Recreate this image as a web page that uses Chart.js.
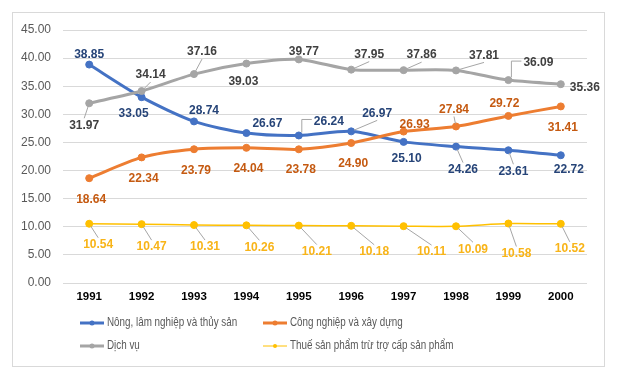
<!DOCTYPE html>
<html><head><meta charset="utf-8">
<script src="https://cdn.jsdelivr.net/npm/chart.js@4.4.1/dist/chart.umd.min.js"></script>
<style>html,body{margin:0;padding:0;background:#fff;}#wrap{position:relative;width:619px;height:379px;}</style>
</head><body><div id="wrap"><canvas id="c" width="619" height="379"></canvas></div>
<script>
const categories = ['1991','1992','1993','1994','1995','1996','1997','1998','1999','2000'];
const agriculture = [38.85, 33.05, 28.74, 26.67, 26.24, 26.97, 25.10, 24.26, 23.61, 22.72];
const industry = [18.64, 22.34, 23.79, 24.04, 23.78, 24.90, 26.93, 27.84, 29.72, 31.41];
const services = [31.97, 34.14, 37.16, 39.03, 39.77, 37.95, 37.86, 37.81, 36.09, 35.36];
const taxes = [10.54, 10.47, 10.31, 10.26, 10.21, 10.18, 10.11, 10.09, 10.58, 10.52];
const seriesNames = ['Nông, lâm nghiệp và thủy sản','Công nghiệp và xây dựng','Dịch vụ','Thuế sản phẩm trừ trợ cấp sản phẩm'];
const yMin = 0, yMax = 45, yStep = 5;

// label placement (pixel offset from point, leader type: 0 none, 1 straight, 2 elbow)
const offAgri = [[0,-10,0],[-8,17,0],[10,-11,0],[21,-9,0],[30,-14,2],[26,-18,1],[3,17,0],[7,23,1],[5,21,1],[8,14,0]];
const offInd = [[2,21,0],[2,21,0],[2,21,0],[2,21,0],[2,20,0],[2,21,0],[11,-7,0],[-2,-17,1],[-4,-12,0],[2,21,0]];
const offServ = [[-5,22,1],[9,-16,1],[8,-22,1],[-3,18,0],[5,-8,0],[18,-15,1],[18,-15,1],[28,-15,1],[30,-17,2],[24,3,0]];
const offTax = [[9,21,1],[10,23,1],[11,22,1],[13,22,1],[18,26,1],[23,26,1],[28,26,1],[17,23,1],[8,30,1],[9,25,1]];

const colors = ['#4472C4','#ED7D31','#A5A5A5','#FFC000'];
const labelColors = ['#264478','#C55A11','#404040','#F8B418'];
const FONT = '"Liberation Sans", Arial, sans-serif';

const labelPlugin = {
  id: 'labelPlugin',
  beforeDraw(chart) {
    const ctx = chart.ctx;
    ctx.save();
    ctx.fillStyle = '#fff';
    ctx.fillRect(0, 0, chart.width, chart.height);
    ctx.strokeStyle = '#D9D9D9';
    ctx.lineWidth = 1;
    ctx.strokeRect(12.5, 12.5, 592, 354);
    ctx.restore();
  },
  afterDatasetsDraw(chart) {
    const ctx = chart.ctx;
    ctx.save();
    ctx.font = 'bold 12px ' + FONT;
    ctx.textAlign = 'center';
    ctx.textBaseline = 'middle';
    chart.data.datasets.forEach((ds, di) => {
      const meta = chart.getDatasetMeta(di);
      meta.data.forEach((pt, i) => {
        const off = ds.labelOffsets[i];
        const lx = pt.x + off[0], ly = pt.y + off[1];
        const text = ds.data[i].toFixed(2);
        const w = ctx.measureText(text).width, h = 12;
        if (off[2]) {
          ctx.strokeStyle = '#A6A6A6';
          ctx.lineWidth = 1;
          ctx.beginPath();
          if (off[2] === 1) {
            let ax, ay;
            if (Math.abs(off[1]) > h / 2 + 2) { ax = lx; ay = off[1] > 0 ? ly - h / 2 - 1 : ly + h / 2 + 1; }
            else { ay = ly; ax = off[0] > 0 ? lx - w / 2 - 2 : lx + w / 2 + 2; }
            const dx = ax - pt.x, dy = ay - pt.y, d = Math.hypot(dx, dy);
            ctx.moveTo(ax, ay);
            ctx.lineTo(pt.x + dx / d * 3, pt.y + dy / d * 3);
          } else {
            const ax = lx - w / 2 - 2, ay = ly - 2;
            const vx = pt.x + 3;
            ctx.moveTo(ax, ay);
            ctx.lineTo(vx, ay);
            ctx.lineTo(vx, pt.y - 3);
          }
          ctx.stroke();
        }
        ctx.fillStyle = labelColors[di];
        ctx.fillText(text, lx, ly);
      });
    });
    ctx.restore();
  },
  afterDraw(chart) {
    const ctx = chart.ctx;
    ctx.save();
    const items = [
      {x: 80, y: 323, lw: 3, r: 2.5},
      {x: 263, y: 323, lw: 3, r: 2.5},
      {x: 80, y: 346, lw: 3, r: 2.5},
      {x: 263, y: 346, lw: 1, r: 2}
    ];
    ctx.textBaseline = 'middle';
    ctx.textAlign = 'left';
    items.forEach((it, k) => {
      ctx.strokeStyle = colors[k];
      ctx.lineWidth = it.lw;
      ctx.beginPath();
      ctx.moveTo(it.x, it.y);
      ctx.lineTo(it.x + 24, it.y);
      ctx.stroke();
      ctx.fillStyle = colors[k];
      ctx.beginPath();
      ctx.arc(it.x + 12, it.y, it.r, 0, Math.PI * 2);
      ctx.fill();
      ctx.save();
      ctx.translate(it.x + 27, it.y);
      ctx.scale(0.82, 1);
      ctx.font = '12px ' + FONT;
      ctx.fillStyle = '#595959';
      ctx.fillText(seriesNames[k], 0, 0);
      ctx.restore();
    });
    ctx.restore();
  }
};

const seriesData = [agriculture, industry, services, taxes];
const offsets = [offAgri, offInd, offServ, offTax];
const orders = [3, 2, 1, 0];
const widths = [3, 3, 3, 1.5];

new Chart(document.getElementById('c'), {
  type: 'line',
  data: {
    labels: categories,
    datasets: seriesData.map((d, k) => ({
      label: seriesNames[k],
      data: d,
      labelOffsets: offsets[k],
      borderColor: colors[k],
      backgroundColor: colors[k],
      pointBackgroundColor: colors[k],
      pointBorderColor: colors[k],
      borderWidth: widths[k],
      pointRadius: 3.5,
      pointBorderWidth: 1,
      tension: 0.25,
      order: orders[k],
      fill: false
    }))
  },
  options: {
    responsive: false,
    devicePixelRatio: 1,
    animation: false,
    layout: { padding: { left: 0, right: 32, top: 30, bottom: 0 } },
    plugins: { legend: { display: false }, tooltip: { enabled: false } },
    scales: {
      x: {
        offset: true,
        grid: { display: false, drawTicks: false },
        border: { display: false },
        ticks: { color: '#000', font: { family: FONT, size: 11.5, weight: 'bold' }, padding: 7, maxRotation: 0 },
        afterFit(s) { s.height = 96; }
      },
      y: {
        min: yMin, max: yMax,
        ticks: { stepSize: yStep, color: '#595959', font: { family: FONT, size: 12 }, padding: 12, callback: v => Number(v).toFixed(2) },
        grid: { color: '#D9D9D9', drawTicks: false },
        border: { display: false },
        afterFit(s) { s.width = 63; }
      }
    }
  },
  plugins: [labelPlugin]
});
</script>
</body></html>
